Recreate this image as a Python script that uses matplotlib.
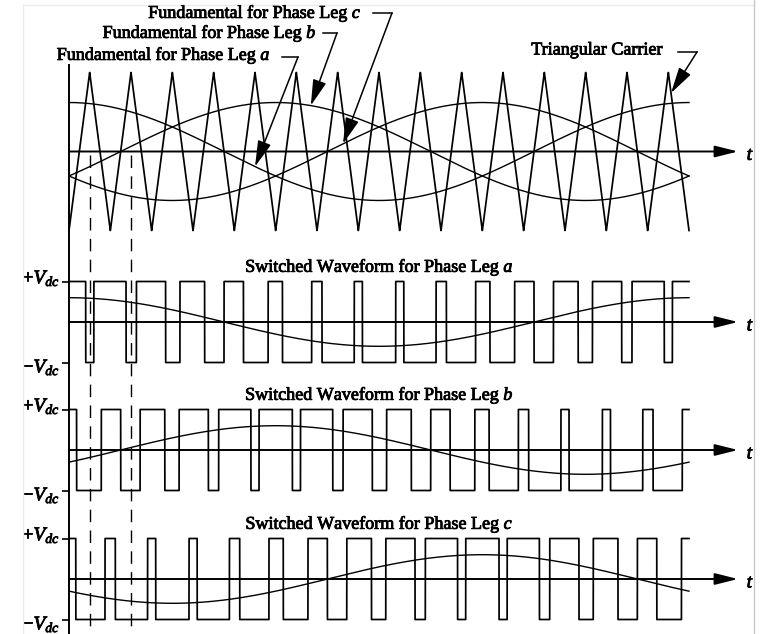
import numpy as np
import matplotlib.pyplot as plt
import matplotlib.patheffects as pe

plt.rcParams['font.family'] = 'Liberation Serif'
plt.rcParams['mathtext.fontset'] = 'custom'
plt.rcParams['mathtext.rm'] = 'Liberation Serif'
plt.rcParams['mathtext.it'] = 'Liberation Serif:italic'

# sinusoidal PWM settings
legs = ['a', 'b', 'c']
phase_deg = [0, -120, 120]
carrier_ratio = 15
mod_index = 0.62
marked_peaks = [1, 2]            # carrier peaks picked out by dashed guides
arrow_t = [0.30, 0.39, 0.442]    # where the leg labels point on their curves
carrier_arrow_t = 0.971

W, H = 761, 634
t0_px, t1_px = 69, 689
span = t1_px - t0_px
xlim = (-t0_px / span, (W - t0_px) / span)
tip_t = (738 - t0_px) / span

# heavier strokes for the serif lettering
ink = [pe.withStroke(linewidth=0.6, foreground='k')]

fig = plt.figure(figsize=(W / 100, H / 100), dpi=100)


def layer(center, half):
    ax = fig.add_axes([0, 0, 1, 1])
    ax.set_xlim(xlim)
    ax.set_ylim((center - H) / half, center / half)
    ax.axis('off')
    ax.patch.set_alpha(0)
    return ax


def time_axis(ax, dy):
    ax.annotate('', xy=(tip_t, 0), xytext=(0, 0),
                arrowprops=dict(arrowstyle='-|>,head_length=1.4,head_width=0.35',
                                mutation_scale=10, lw=1.4, color='k',
                                shrinkA=0, shrinkB=0))
    ax.text(tip_t + 0.014, dy, '$t$', ha='left', va='center', fontsize=14,
            path_effects=ink)


t = np.linspace(0, 1, 60001)
ph = (t * carrier_ratio) % 1
carrier = np.where(ph < 0.5, -1 + 4 * ph, 3 - 4 * ph)
refs = [mod_index * np.cos(2 * np.pi * t + np.radians(d)) for d in phase_deg]

# carrier and the three references
top = layer(151.5, 79)
top.plot(t, carrier, color='k', lw=1.25)
for r in refs:
    top.plot(t, r, color='k', lw=1.0)
time_axis(top, -0.05)

# switched leg voltages
centers = [322, 450, 579]
half = 40.5
tick = 7 / span
for leg, r, c in zip(legs, refs, centers):
    ax = layer(c, half)
    pwm = np.where(r > carrier, 1, -1)
    ax.plot(t, pwm, color='k', lw=1.25)
    ax.plot(t, r / mod_index * 0.6, color='k', lw=1.0)
    time_axis(ax, -0.1)
    ax.hlines([1, -1], -tick, 0, color='k', lw=1.2)
    ax.text(-tick - 0.003, 1.08, '$+V_{dc}$', ha='right', va='center', fontsize=14,
            path_effects=ink)
    ax.text(-tick - 0.003, -1.12, '$-V_{dc}$', ha='right', va='center', fontsize=14,
            path_effects=ink)
    ax.text(0.5, 1.36, f'Switched Waveform for Phase Leg ${leg}$',
            ha='center', va='center', fontsize=13, path_effects=ink)

# overlay in pixel units: shared vertical axis, guides and labels
ov = fig.add_axes([0, 0, 1, 1])
ov.set_xlim(0, W)
ov.set_ylim(H, 0)
ov.axis('off')
ov.patch.set_alpha(0)

ov.plot([t0_px, t0_px], [65, H], color='k', lw=1.4)
for k in marked_peaks:
    x = t0_px + span * (k - 0.5) / carrier_ratio
    ov.plot([x, x], [155, H], color='k', lw=1.0, dashes=(9, 6))

labels = [('Fundamental for Phase Leg $a$', 270, 55, 282, 298, 57),
          ('Fundamental for Phase Leg $b$', 316, 33, 323, 337, 33),
          ('Fundamental for Phase Leg $c$', 361, 13, 373, 392, 13)]
head = dict(arrowstyle='-|>,head_length=1.6,head_width=0.42', mutation_scale=10,
            lw=1.1, color='k', shrinkA=0, shrinkB=0)
for (txt, xr, yt, xa, xb, yl), ta, r in zip(labels, arrow_t, refs):
    ov.text(xr, yt, txt, ha='right', va='center', fontsize=13, path_effects=ink)
    ov.plot([xa, xb], [yl, yl], color='k', lw=1.1)
    i = np.searchsorted(t, ta)
    top.annotate('', xy=(t[i], r[i]), xytext=(xb, yl), textcoords=ov.transData,
                 arrowprops=head)

ov.text(662, 50, 'Triangular Carrier', ha='right', va='center', fontsize=13,
        path_effects=ink)
ov.plot([678, 697], [52, 52], color='k', lw=1.1)
i = np.searchsorted(t, carrier_arrow_t)
top.annotate('', xy=(t[i], carrier[i]), xytext=(697, 52), textcoords=ov.transData,
             arrowprops=head)

# faint scan border
ov.plot([23, 23], [5, H], color='#ececec', lw=1.0)
ov.plot([23, 754], [5, 5], color='#ececec', lw=1.0)
ov.plot([754, 754], [0, H], color='#c8c8c8', lw=1.0)

fig.savefig('out.png', dpi=100)
